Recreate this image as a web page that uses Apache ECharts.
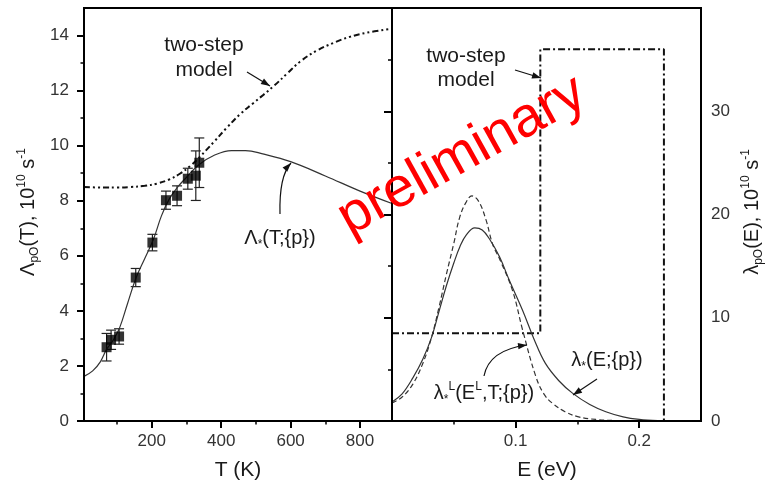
<!DOCTYPE html>
<html><head><meta charset="utf-8">
<script src="https://cdn.jsdelivr.net/npm/echarts@6/dist/echarts.min.js"></script>
<style>html,body{margin:0;padding:0;background:#fff}#c{width:767px;height:484px}</style>
</head><body><div id="c"></div>
<script>
// ---- tick values ----
const T_ticks = [200, 400, 600, 800];
const T_minor = [100, 300, 500, 700];
const L_ticks = [0, 2, 4, 6, 8, 10, 12, 14];
const L_minor = [1, 3, 5, 7, 9, 11, 13];
const E_ticks = [0.1, 0.2];
const E_minor = [0.05, 0.15];
const R_ticks = [0, 10, 20, 30];
const R_minor = [5, 15, 25, 35];

// ---- left panel: experimental points ----
const expT   = [70, 83, 106, 154, 202, 241, 273, 304, 327, 337];
const expVal = [2.68, 2.95, 3.07, 5.21, 6.48, 8.02, 8.18, 8.80, 8.91, 9.38];
const expErr = [0.5, 0.35, 0.28, 0.33, 0.3, 0.33, 0.36, 0.38, 0.9, 0.9];

// ---- left panel: fit curve Λ*(T;{p}) ----
const fitT   = [5, 30, 52, 70, 90, 108, 130, 155, 180, 205, 228, 250, 275, 300, 335, 380, 430, 470, 520, 600, 700, 800, 892];
const fitVal = [1.62, 1.82, 2.15, 2.6, 2.95, 3.4, 4.25, 5.2, 5.9, 6.6, 7.45, 8.05, 8.5, 8.85, 9.3, 9.65, 9.82, 9.82, 9.7, 9.42, 8.9, 8.35, 7.9];

// ---- left panel: two-step model ----
const twoT   = [5, 60, 100, 140, 180, 214, 250, 281, 310, 339, 380, 416, 455, 493, 551, 590, 627, 675, 723, 770, 818, 892];
const twoVal = [8.5, 8.48, 8.48, 8.5, 8.54, 8.62, 8.77, 8.98, 9.25, 9.6, 10.15, 10.65, 11.15, 11.55, 12.16, 12.62, 13.05, 13.45, 13.73, 13.95, 14.1, 14.25];

// ---- right panel: two-step step function ----
const stepE   = [0, 0.12, 0.12, 0.22, 0.22];
const stepVal = [8.5, 8.5, 36, 36, 0];

// ---- right panel: λ*(E;{p}) ----
const lamE   = [0, 0.008, 0.017, 0.025, 0.032, 0.038, 0.044, 0.05, 0.055, 0.06, 0.067, 0.073, 0.079, 0.087, 0.095, 0.1057, 0.115, 0.124, 0.135, 0.146, 0.16, 0.173, 0.187, 0.2, 0.215];
const lamVal = [1.85, 2.6, 4.2, 6.0, 8.1, 10.6, 13.1, 15.3, 16.9, 18.0, 18.7, 18.5, 17.6, 15.9, 13.6, 10.7, 7.9, 5.6, 3.9, 2.7, 1.6, 0.9, 0.4, 0.15, 0.03];

// ---- right panel: λ*L(EL,T;{p}) ----
const lamLE   = [0, 0.008, 0.017, 0.025, 0.032, 0.038, 0.044, 0.05, 0.0547, 0.06, 0.0646, 0.07, 0.076, 0.0815, 0.0874, 0.0976, 0.1057, 0.1164, 0.123, 0.13, 0.14, 0.151, 0.165, 0.18, 0.2];
const lamLVal = [1.75, 2.3, 3.6, 5.6, 8.1, 11.0, 14.2, 17.2, 19.7, 21.2, 21.8, 21.3, 19.5, 17.1, 15.6, 12.6, 8.8, 4.3, 2.6, 1.7, 0.9, 0.4, 0.15, 0.05, 0];

const FONT = '"Liberation Sans", Arial, Helvetica, sans-serif';
const zip = (a, b) => a.map((v, i) => [v, b[i]]);

const chart = echarts.init(document.getElementById('c'), null, {renderer: 'canvas'});

function tickAxis(base, ticks, len, width, inside, labels, margin) {
  return Object.assign({
    type: 'value',
    axisLine: {show: false},
    splitLine: {show: false},
    axisTick: {show: true, customValues: ticks, length: len, inside: !!inside, lineStyle: {color: '#000', width: width}},
    axisLabel: labels ? {customValues: ticks, margin: margin, fontSize: 17, color: '#333', fontFamily: FONT} : {show: false}
  }, base);
}

const xAxes = [
  tickAxis({gridIndex: 0, min: 5, max: 892, position: 'bottom'}, T_ticks, 7, 2, false, true, 12),
  tickAxis({gridIndex: 0, min: 5, max: 892, position: 'bottom'}, T_minor, 3.5, 1.5, false, false),
  tickAxis({gridIndex: 1, min: 0, max: 0.25, position: 'bottom'}, E_ticks, 7, 2, false, true, 12),
  tickAxis({gridIndex: 1, min: 0, max: 0.25, position: 'bottom'}, E_minor, 3.5, 1.5, false, false)
];
const yAxes = [
  tickAxis({gridIndex: 0, min: 0, max: 15, position: 'left'}, L_ticks, 7, 2, false, true, 15),
  tickAxis({gridIndex: 0, min: 0, max: 15, position: 'left'}, L_minor, 3.5, 1.5, false, false),
  tickAxis({gridIndex: 1, min: 0, max: 40, position: 'right'}, R_ticks, 8, 2, true, true, 10),
  tickAxis({gridIndex: 1, min: 0, max: 40, position: 'right'}, R_minor, 4, 1.5, true, false)
];

const lineBase = {type: 'line', showSymbol: false, symbol: 'none', silent: true, animation: false};

const series = [
  Object.assign({}, lineBase, {
    name: 'two-step T', xAxisIndex: 0, yAxisIndex: 0, smooth: 0.4,
    data: zip(twoT, twoVal),
    lineStyle: {color: '#111', width: 2, type: [6, 3, 2, 3, 2, 3]}
  }),
  Object.assign({}, lineBase, {
    name: 'fit', xAxisIndex: 0, yAxisIndex: 0, smooth: 0.4,
    data: zip(fitT, fitVal),
    lineStyle: {color: '#333', width: 1.2}
  }),
  {
    type: 'custom', xAxisIndex: 0, yAxisIndex: 0, silent: true, animation: false, z: 3,
    data: expT.map((t, i) => [t, expVal[i], expErr[i]]),
    renderItem: function (params, api) {
      const x = api.value(0), y = api.value(1), e = api.value(2);
      const top = api.coord([x, y + e]);
      const bot = api.coord([x, y - e]);
      const st = {stroke: '#222', lineWidth: 1.2};
      return {type: 'group', children: [
        {type: 'line', shape: {x1: top[0], y1: top[1], x2: bot[0], y2: bot[1]}, style: st},
        {type: 'line', shape: {x1: top[0] - 5, y1: top[1], x2: top[0] + 5, y2: top[1]}, style: st},
        {type: 'line', shape: {x1: bot[0] - 5, y1: bot[1], x2: bot[0] + 5, y2: bot[1]}, style: st}
      ]};
    }
  },
  {
    type: 'scatter', xAxisIndex: 0, yAxisIndex: 0, symbol: 'rect', symbolSize: 10, silent: true, animation: false, z: 4,
    itemStyle: {color: '#000'},
    data: zip(expT, expVal)
  },
  Object.assign({}, lineBase, {
    name: 'two-step E', xAxisIndex: 2, yAxisIndex: 2, smooth: false,
    data: zip(stepE, stepVal),
    lineStyle: {color: '#111', width: 2, type: [7, 3, 2, 3]}
  }),
  Object.assign({}, lineBase, {
    name: 'lam', xAxisIndex: 2, yAxisIndex: 2, smooth: 0.4,
    data: zip(lamE, lamVal),
    lineStyle: {color: '#333', width: 1.2}
  }),
  Object.assign({}, lineBase, {
    name: 'lamL', xAxisIndex: 2, yAxisIndex: 2, smooth: 0.4,
    data: zip(lamLE, lamLVal),
    lineStyle: {color: '#333', width: 1.2, type: [5, 3]}
  })
];

// ---- annotations (pixels) ----
function arrowHead(x1, y1, x2, y2, L, W) {
  const dx = x2 - x1, dy = y2 - y1, d = Math.hypot(dx, dy);
  const ux = dx / d, uy = dy / d, nx = -uy, ny = ux;
  return {type: 'polygon', z: 50, shape: {points: [[x2, y2], [x2 - L * ux + W * nx, y2 - L * uy + W * ny], [x2 - L * ux - W * nx, y2 - L * uy - W * ny]]}, style: {fill: '#111'}};
}
function straightArrow(x1, y1, x2, y2) {
  return [
    {type: 'line', z: 50, shape: {x1: x1, y1: y1, x2: x2, y2: y2}, style: {stroke: '#111', lineWidth: 1.2}},
    arrowHead(x1, y1, x2, y2, 9, 3.2)
  ];
}
function curvedArrow(x1, y1, cx, cy, x2, y2) {
  return [
    {type: 'bezierCurve', z: 50, shape: {x1: x1, y1: y1, cpx1: cx, cpy1: cy, x2: x2, y2: y2}, style: {stroke: '#111', lineWidth: 1.2, fill: null}},
    arrowHead(cx, cy, x2, y2, 9, 3.2)
  ];
}
function txt(x, y, text, size) {
  return {
    type: 'text', x: x, y: y, z: 60,
    style: {
      text: text, x: 0, y: 0, fill: '#1a1a1a', font: size + 'px ' + FONT,
      align: 'center', verticalAlign: 'middle', textAlign: 'center', textVerticalAlign: 'middle'
    }
  };
}
const richBase = (size) => ({
  m: {fontSize: size, fontFamily: FONT, color: '#1a1a1a', lineHeight: size + 5, verticalAlign: 'middle'},
  sub: {fontSize: Math.round(size * 0.62), fontFamily: FONT, color: '#1a1a1a', lineHeight: Math.round(size * 0.62), verticalAlign: 'bottom'},
  sup: {fontSize: Math.round(size * 0.62), fontFamily: FONT, color: '#1a1a1a', lineHeight: Math.round(size * 0.62), verticalAlign: 'top'}
});
function richTxt(x, y, text, size, rot) {
  return {
    type: 'text', x: x, y: y, z: 60, rotation: rot || 0,
    style: {
      text: text, rich: richBase(size), x: 0, y: 0, fill: '#1a1a1a',
      font: size + 'px ' + FONT, lineHeight: size + 5,
      align: 'center', verticalAlign: 'middle', textAlign: 'center', textVerticalAlign: 'middle'
    }
  };
}

const graphics = [].concat(
  [
    txt(204, 45, 'two-step', 21),
    txt(204, 70, 'model', 21),
    txt(466, 56, 'two-step', 21),
    txt(466, 80, 'model', 21),
    txt(238, 470, 'T (K)', 21),
    txt(547, 470, 'E (eV)', 21),
    richTxt(28, 212, '{m|Λ}{sub|pO}{m|(T), 10}{sup|10}{m| s}{sup|-1}', 20, Math.PI / 2),
    richTxt(752, 212, '{m|λ}{sub|pO}{m|(E), 10}{sup|10}{m| s}{sup|-1}', 20, Math.PI / 2),
    richTxt(280, 238, '{m|Λ}{sub|*}(T;{p})', 20),
    richTxt(607, 360, '{m|λ}{sub|*}(E;{p})', 20),
    richTxt(484, 393, '{m|λ}{sub|*}{sup|L}(E{sup|L},T;{p})', 20)
  ],
  straightArrow(247, 72, 270, 86),
  curvedArrow(280, 214, 279, 176, 291, 163),
  straightArrow(515, 70, 541, 78),
  straightArrow(597, 379, 573, 395),
  curvedArrow(484, 376, 489, 350, 527, 345),
  [{
    type: 'text', x: 462, y: 156, rotation: 29 * Math.PI / 180, z: 100,
    style: {text: 'preliminary', fill: '#ff0000', font: '56px ' + FONT, x: 0, y: 0,
      align: 'center', verticalAlign: 'middle', textAlign: 'center', textVerticalAlign: 'middle'}
  }]
);

chart.setOption({
  animation: false,
  backgroundColor: '#fff',
  grid: [
    {left: 84, top: 8, width: 308, height: 413, show: true, borderColor: '#000', borderWidth: 2, backgroundColor: 'transparent', z: 10},
    {left: 392, top: 8, width: 309, height: 413, show: true, borderColor: '#000', borderWidth: 2, backgroundColor: 'transparent', z: 10}
  ],
  xAxis: xAxes,
  yAxis: yAxes,
  series: series,
  graphic: {elements: graphics}
});
</script>
</body></html>
